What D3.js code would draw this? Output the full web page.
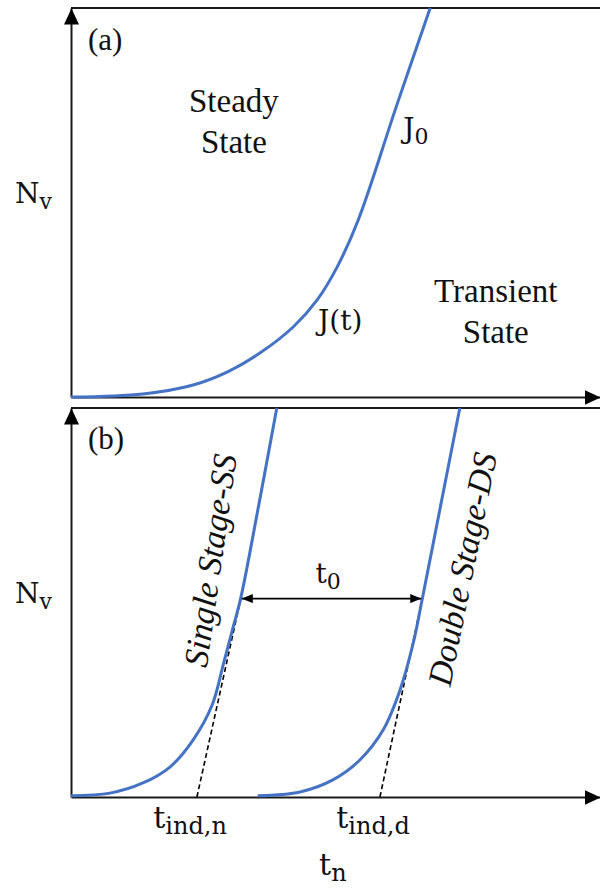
<!DOCTYPE html>
<html>
<head>
<meta charset="utf-8">
<script src="https://cdn.jsdelivr.net/npm/d3@7"></script>
<style>
  body { margin: 0; background: #fff; }
  svg { display: block; }
</style>
</head>
<body>
<div id="chart"></div>
<script>
// values, arbitrary units: t on 0-100, Nv on 0-100 in each panel
// panel (a): nucleation curve J(t) rising into J0
var curveA = [[0,0],[13.6,0.8],[23.1,3.1],[29.5,6.4],[35.7,11.3],[42.0,18.0],[46.5,24.9],[50.3,33.4],[54.3,45.5],[61.6,75.1],[67.9,100]];

// panel (b): single stage and double stage curves
var curveSS = [[0,0.3],[7.4,1.0],[13.6,3.6],[18.7,7.7],[23.1,14.7],[26.7,23.7],[28.9,34.7],[30.6,43.4],[32.1,51.2],[35.5,75.1],[38.9,100]];
var curveDS = [[35.3,0.3],[43.3,1.3],[49.5,4.4],[54.6,9.5],[59.0,17.2],[62.2,27.5],[64.7,39.6],[66.4,50.9],[69.9,75.1],[73.5,100]];

// dashed tangents: induction time on the axis -> tangent point
var tangentSS = [[23.8,0],[32.1,51]];
var tangentDS = [[58.4,0],[66.4,51]];

// t0 gap between the two tangent points
var t0Level = 51;
var t0Span = [32.1, 66.4];

// labels under the axis of panel (b)
var indLabels = [{x: 22.5, sub: "ind,n"}, {x: 57.1, sub: "ind,d"}];

var width = 600, height = 890;
var blue = "#4472c4", ink = "#1a1a1a";
var textFont = "Liberation Serif, serif";
var mathFont = "DejaVu Serif, serif";

var x = d3.scaleLinear().domain([0, 100]).range([71, 600]);
var yA = d3.scaleLinear().domain([0, 100]).range([397, 8]);
var yB = d3.scaleLinear().domain([0, 100]).range([797, 408]);

var svg = d3.select("#chart").append("svg")
    .attr("width", width)
    .attr("height", height)
    .attr("viewBox", `0 0 ${width} ${height}`);

svg.append("rect").attr("width", width).attr("height", height).attr("fill", "#fff");

var defs = svg.append("defs");
defs.append("marker")
    .attr("id", "axisHead")
    .attr("viewBox", "0 0 16 15")
    .attr("refX", 16).attr("refY", 7.5)
    .attr("markerWidth", 16).attr("markerHeight", 15)
    .attr("markerUnits", "userSpaceOnUse")
    .attr("orient", "auto")
    .append("path").attr("d", "M0,0L16,7.5L0,15Z").attr("fill", "#000");
defs.append("marker")
    .attr("id", "smallHead")
    .attr("viewBox", "0 0 11 9")
    .attr("refX", 11).attr("refY", 4.5)
    .attr("markerWidth", 11).attr("markerHeight", 9)
    .attr("markerUnits", "userSpaceOnUse")
    .attr("orient", "auto-start-reverse")
    .append("path").attr("d", "M0,0L11,4.5L0,9Z").attr("fill", "#000");

// draws axes + top frame line for one panel
function drawFrame(y) {
    var gx = svg.append("g")
        .attr("transform", `translate(0,${y(0)})`)
        .call(d3.axisBottom(x).tickValues([]).tickSizeOuter(0));
    var gy = svg.append("g")
        .attr("transform", `translate(${x(0)},0)`)
        .call(d3.axisLeft(y).tickValues([]).tickSizeOuter(0));
    [gx, gy].forEach(function(g) {
        g.select(".domain")
            .attr("stroke", ink)
            .attr("stroke-width", 2)
            .attr("marker-end", "url(#axisHead)");
    });
    svg.append("line")
        .attr("x1", x(0)).attr("x2", x(100))
        .attr("y1", y(100)).attr("y2", y(100))
        .attr("stroke", ink)
        .attr("stroke-width", 2);
}

drawFrame(yA);
drawFrame(yB);

function curve(y) {
    return d3.line()
        .x(function(d) { return x(d[0]); })
        .y(function(d) { return y(d[1]); })
        .curve(d3.curveCatmullRom.alpha(0.5));
}

// dashed tangents first, curves on top
[tangentSS, tangentDS].forEach(function(t) {
    svg.append("path")
        .attr("d", d3.line().x(function(d) { return x(d[0]); }).y(function(d) { return yB(d[1]); })(t))
        .attr("fill", "none")
        .attr("stroke", "#000")
        .attr("stroke-width", 1.6)
        .attr("stroke-dasharray", "5,3");
});

svg.append("path").attr("d", curve(yA)(curveA))
    .attr("fill", "none").attr("stroke", blue).attr("stroke-width", 3);
svg.append("path").attr("d", curve(yB)(curveSS))
    .attr("fill", "none").attr("stroke", blue).attr("stroke-width", 3);
svg.append("path").attr("d", curve(yB)(curveDS))
    .attr("fill", "none").attr("stroke", blue).attr("stroke-width", 3);

// t0 double arrow
svg.append("line")
    .attr("x1", x(t0Span[0]) + 1).attr("x2", x(t0Span[1]) - 1)
    .attr("y1", yB(t0Level)).attr("y2", yB(t0Level))
    .attr("stroke", "#000")
    .attr("stroke-width", 1.6)
    .attr("marker-start", "url(#smallHead)")
    .attr("marker-end", "url(#smallHead)");

// plain text labels
function label(px, py, txt, size, anchor, style) {
    return svg.append("text")
        .attr("x", px).attr("y", py)
        .attr("text-anchor", anchor || "start")
        .attr("font-family", textFont)
        .attr("font-size", size)
        .attr("font-style", style || "normal")
        .attr("fill", "#111")
        .text(txt);
}

// base letter with subscript
function mathLabel(px, py, base, sub, anchor, size) {
    size = size || 28;
    var t = svg.append("text")
        .attr("x", px).attr("y", py)
        .attr("text-anchor", anchor || "start")
        .attr("font-family", mathFont)
        .attr("font-size", size)
        .attr("fill", "#111");
    t.append("tspan").text(base);
    if (sub) t.append("tspan").attr("dy", 6).attr("font-size", Math.round(size * 0.8)).text(sub);
    return t;
}

// panel (a)
label(x(3.2), yA(89.2), "(a)", 31);
label(x(30.8), yA(73.3), "Steady", 33, "middle");
label(x(30.8), yA(62.7), "State", 33, "middle");
label(x(80.3), yA(24.4), "Transient", 33, "middle");
label(x(80.3), yA(13.9), "State", 33, "middle");
mathLabel(x(62.8), yA(66.6), "J", "0");
mathLabel(x(46.7), yA(17.2), "J(t)", null);
mathLabel(15, yA(50), "N", "v");

// panel (b)
label(x(3.2), yB(89.5), "(b)", 31);
mathLabel(15, yB(50), "N", "v");
mathLabel(x(48.6), yB(55), "t", "0", "middle");

indLabels.forEach(function(d) {
    mathLabel(x(d.x), yB(0) + 31, "t", d.sub, "middle", 30);
});
mathLabel(x(49.5), yB(0) + 78, "t", "n", "middle", 30);

// rotated stage labels along the curves
var stageLabels = [
    {text: "Single Stage-SS", x: 28.5, y: 60.4, angle: -81.9},
    {text: "Double Stage-DS", x: 76.1, y: 58.0, angle: -78.6}
];
stageLabels.forEach(function(d) {
    svg.append("text")
        .attr("transform", `translate(${x(d.x)},${yB(d.y)}) rotate(${d.angle})`)
        .attr("text-anchor", "middle")
        .attr("font-family", textFont)
        .attr("font-size", 34)
        .attr("font-style", "italic")
        .attr("fill", "#111")
        .text(d.text);
});
</script>
</body>
</html>
